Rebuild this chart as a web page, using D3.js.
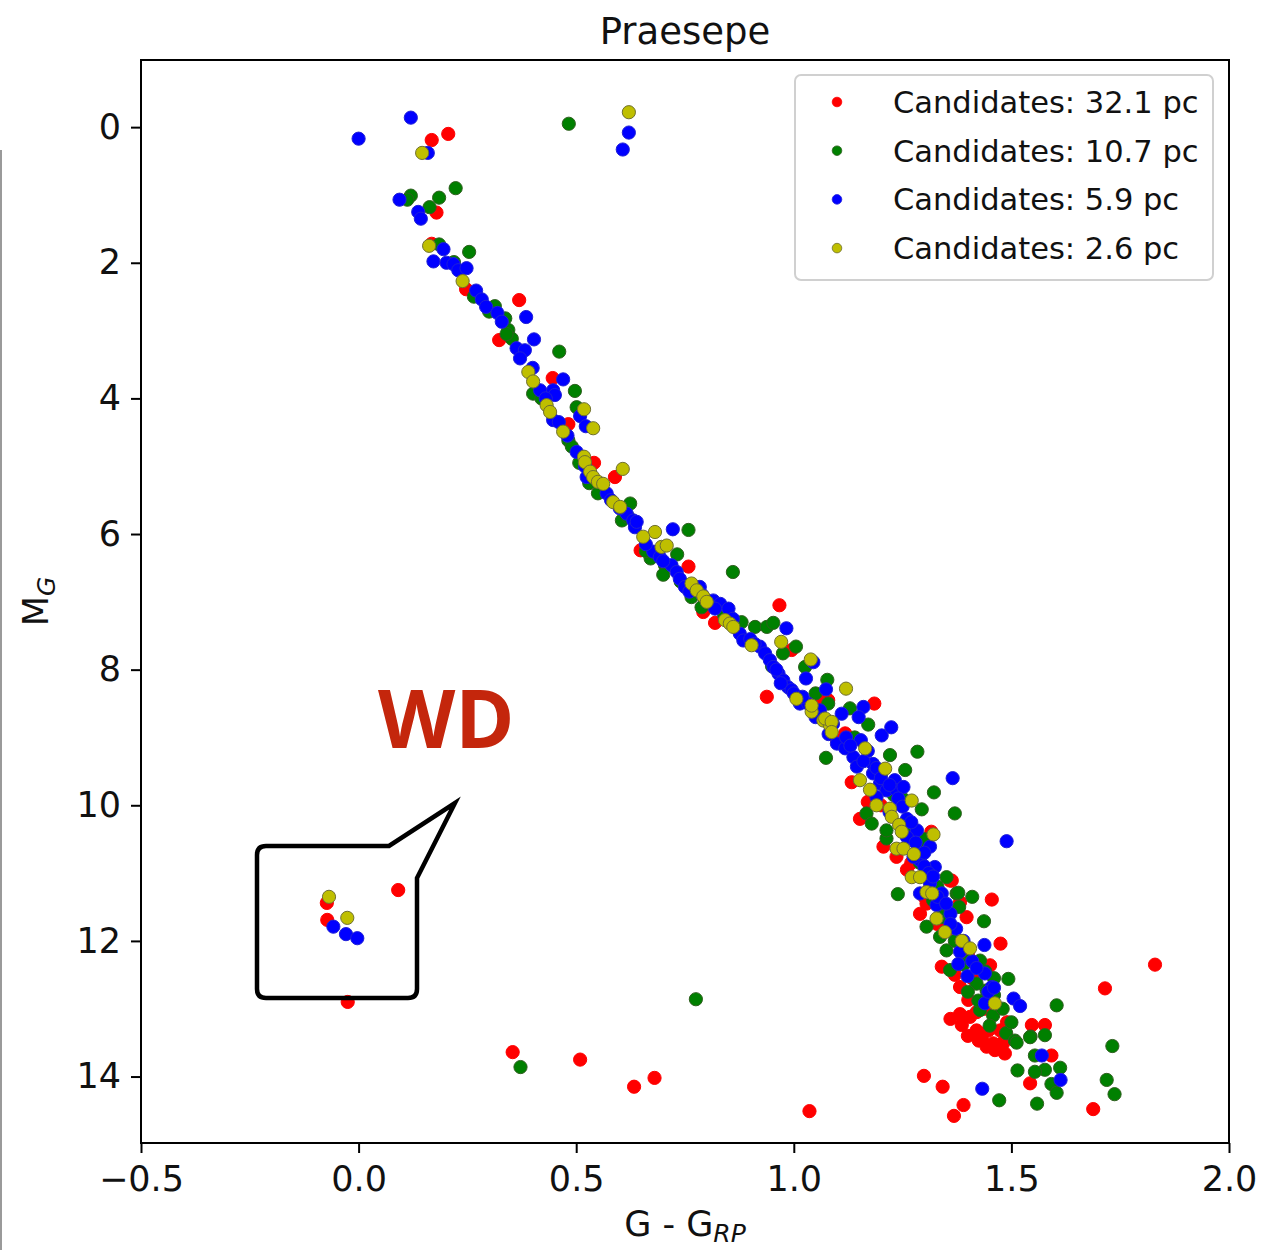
<!DOCTYPE html>
<html>
<head>
<meta charset="utf-8">
<script src="https://cdn.jsdelivr.net/npm/d3@7.9.0/dist/d3.min.js"></script>
<style>
  html, body { margin: 0; padding: 0; background: #fff; }
  svg { display: block; font-family: 'DejaVu Sans', sans-serif; }
</style>
</head>
<body>
<svg id="chart" width="1264" height="1250"></svg>
<script>
// colour index (G - G_RP), absolute magnitude M_G
const red32 = [
  [0.168, 0.19], [0.206, 0.10], [0.179, 1.26], [0.168, 1.72], [0.247, 2.39], [0.369, 2.55],
  [0.323, 3.14], [0.446, 3.70], [0.482, 4.38], [0.541, 4.95], [0.589, 5.16], [0.648, 6.24],
  [0.758, 6.48], [0.792, 7.15], [0.967, 7.05], [0.819, 7.31], [0.995, 7.71], [0.938, 8.40],
  [1.060, 8.43], [1.079, 8.45], [1.185, 8.50], [1.118, 8.94], [1.133, 9.66], [1.152, 10.20],
  [1.206, 10.61], [1.236, 10.76], [1.316, 10.39], [1.359, 11.11], [1.382, 11.43], [1.290, 11.60],
  [1.397, 11.65], [1.455, 11.39], [1.475, 12.04], [1.382, 13.08], [1.547, 13.24], [1.577, 13.24],
  [1.382, 12.68], [1.401, 12.87], [1.420, 13.05], [1.340, 12.38], [1.363, 11.11], [1.451, 12.36],
  [1.386, 13.24], [1.420, 13.32], [1.447, 13.32], [1.458, 13.51], [1.481, 13.51], [1.425, 13.47],
  [1.305, 11.45], [1.830, 12.35], [1.715, 12.70], [1.592, 13.69], [1.543, 14.10], [1.688, 14.48],
  [1.299, 13.99], [1.342, 14.15], [1.390, 14.42], [1.368, 14.58], [1.474, 13.32], [1.478, 13.51],
  [1.443, 13.56], [1.462, 13.61], [1.485, 13.66], [1.405, 13.12], [1.432, 13.44],
  [1.10, 9.05], [1.17, 9.95], [1.26, 10.95], [1.31, 11.25], [1.35, 11.85], [1.40, 12.20],
  [1.20, 10.00], [1.27, 10.85], [1.30, 11.35], [1.33, 11.75], [1.37, 12.50], [1.41, 12.55],
  [1.44, 13.00], [1.49, 13.20], [1.36, 13.15], [1.40, 13.40],
  [-0.073, 11.44], [-0.072, 11.69], [0.091, 11.25], [-0.025, 12.90],
  [0.354, 13.64], [0.509, 13.75], [0.633, 14.15], [0.680, 14.02], [1.036, 14.51]
];

const green107 = [
  [0.483, -0.05], [0.223, 0.90], [0.120, 1.01], [0.112, 1.07], [0.185, 1.04], [0.163, 1.18],
  [0.185, 1.73], [0.254, 1.84], [0.219, 1.99], [0.265, 2.50], [0.313, 2.64], [0.337, 2.82],
  [0.344, 2.99], [0.352, 3.12], [0.461, 3.31], [0.401, 3.93], [0.497, 3.89], [0.501, 4.13],
  [0.482, 4.62], [0.490, 4.71], [0.507, 4.95], [0.624, 5.55], [0.605, 5.80], [0.758, 5.94],
  [0.671, 6.36], [0.732, 6.30], [0.704, 6.46], [0.860, 6.56], [0.765, 6.93], [0.788, 7.08],
  [0.880, 7.30], [0.911, 7.37], [0.938, 7.37], [0.953, 7.31], [1.005, 7.66], [0.975, 7.76],
  [1.026, 7.96], [1.077, 8.15], [1.079, 8.50], [1.129, 8.57], [1.171, 8.81], [1.074, 9.30],
  [1.284, 9.21], [1.322, 9.81], [1.370, 10.12], [1.221, 9.26], [1.294, 10.06], [1.167, 10.12],
  [1.239, 11.31], [1.256, 9.48], [1.213, 10.49], [1.351, 11.06], [1.374, 11.30], [1.290, 10.61],
  [1.213, 10.37], [1.179, 10.27], [1.437, 11.71], [1.493, 12.56], [1.604, 12.95], [1.544, 13.41],
  [1.577, 13.39], [1.488, 13.36], [1.508, 13.47], [1.351, 12.14], [1.405, 12.29], [1.428, 12.29],
  [1.420, 12.63], [1.443, 12.73], [1.458, 13.10], [1.359, 12.43], [1.378, 11.29], [1.343, 11.55],
  [1.305, 11.79], [1.336, 11.94], [1.732, 13.55], [1.554, 13.69], [1.612, 13.87], [1.577, 13.90],
  [1.554, 13.93], [1.514, 13.91], [1.592, 14.11], [1.604, 14.24], [1.719, 14.05], [1.737, 14.26],
  [1.472, 14.35], [1.559, 14.40], [1.512, 13.50], [1.543, 13.42], [1.428, 13.02], [1.424, 12.88],
  [0.56, 5.35], [0.62, 5.75], [0.70, 6.60], [0.84, 7.20], [0.95, 7.95], [1.05, 8.35],
  [1.14, 9.00], [1.25, 9.90], [1.30, 10.50], [1.33, 11.20], [1.38, 11.50], [1.46, 12.55],
  [1.20, 9.55], [1.23, 9.85], [1.27, 10.35], [1.29, 10.85], [1.32, 11.40], [1.34, 11.65],
  [1.37, 12.00], [1.39, 12.35], [1.44, 12.45], [1.46, 12.80], [1.40, 12.75], [1.48, 13.00],
  [1.50, 13.20], [1.41, 11.35], [1.45, 13.25], [0.30, 2.72], [0.34, 3.05], [0.42, 4.00],
  [0.53, 5.25], [0.55, 5.40], [0.66, 6.25], [0.74, 6.70],
  [0.775, 12.86], [0.372, 13.86]
];

const blue59 = [
  [0.000, 0.17], [0.120, -0.14], [0.159, 0.38], [0.621, 0.08], [0.607, 0.33], [0.094, 1.07],
  [0.137, 1.25], [0.143, 1.35], [0.195, 1.80], [0.172, 1.98], [0.202, 2.00], [0.218, 2.02],
  [0.229, 2.11], [0.248, 2.08], [0.270, 2.41], [0.283, 2.54], [0.293, 2.65], [0.385, 2.80],
  [0.319, 2.74], [0.329, 2.87], [0.403, 3.13], [0.363, 3.26], [0.382, 3.29], [0.371, 3.41],
  [0.470, 3.72], [0.417, 3.88], [0.447, 3.88], [0.451, 3.95], [0.447, 4.32], [0.509, 4.26],
  [0.522, 4.41], [0.501, 4.79], [0.524, 5.16], [0.570, 5.40], [0.616, 5.70], [0.631, 5.80],
  [0.635, 5.90], [0.722, 5.93], [0.639, 5.82], [0.677, 6.26], [0.692, 6.34], [0.719, 6.46],
  [0.731, 6.56], [0.738, 6.66], [0.750, 6.78], [0.784, 6.78], [0.815, 6.98], [0.831, 7.03],
  [0.850, 7.10], [0.819, 7.10], [0.983, 7.39], [0.876, 7.47], [0.884, 7.57], [0.922, 7.66],
  [0.934, 7.76], [0.945, 7.86], [0.953, 7.96], [0.965, 8.06], [0.976, 8.16], [0.987, 8.26],
  [0.995, 8.30], [1.045, 7.89], [1.028, 8.13], [1.074, 8.29], [1.014, 8.50], [1.033, 8.50],
  [1.160, 8.55], [1.149, 8.70], [1.110, 8.65], [1.202, 8.97], [1.224, 8.85], [1.365, 9.60],
  [1.099, 9.09], [1.118, 9.16], [1.137, 9.29], [1.154, 9.04], [1.145, 9.43], [1.182, 9.53],
  [1.198, 9.68], [1.213, 9.78], [1.232, 9.63], [1.182, 9.39], [1.236, 9.78], [1.252, 9.73],
  [1.190, 9.88], [1.283, 10.37], [1.260, 10.47], [1.313, 10.61], [1.290, 10.81], [1.324, 10.91],
  [1.275, 10.76], [1.313, 11.15], [1.290, 11.30], [1.328, 11.47], [1.489, 10.53], [1.438, 12.06],
  [1.505, 12.85], [1.520, 12.96], [1.439, 12.92], [1.439, 12.48], [1.455, 12.68], [1.399, 12.52],
  [1.382, 12.16], [1.378, 12.34], [1.373, 11.82], [1.447, 12.75], [1.460, 12.69], [1.570, 13.69],
  [1.613, 14.05], [1.433, 14.18],
  [1.06, 8.60], [1.09, 8.80], [1.17, 9.20], [1.22, 10.10], [1.26, 10.20], [1.30, 10.90],
  [1.34, 11.30], [1.36, 11.60],
  [1.00, 8.35], [1.02, 8.40], [1.05, 8.70], [1.08, 8.95], [1.12, 9.00], [1.13, 9.12],
  [1.16, 9.35], [1.19, 9.45], [1.20, 9.60], [1.22, 9.70], [1.24, 9.90], [1.25, 10.02],
  [1.27, 10.25], [1.28, 10.55], [1.30, 10.70], [1.31, 11.00], [1.32, 11.05], [1.33, 11.35],
  [1.35, 11.45], [1.36, 11.75], [1.39, 12.00], [1.41, 12.30], [1.42, 12.40],
  [0.86, 7.25], [0.90, 7.55], [0.91, 7.62], [0.96, 8.00], [0.97, 8.20], [0.66, 6.15],
  [0.70, 6.40], [0.76, 6.85], [0.79, 6.90], [0.40, 3.55], [0.43, 4.00], [0.46, 4.35],
  [0.48, 4.55], [0.52, 5.00], [0.58, 5.50], [0.60, 5.62],
  [-0.058, 11.79], [-0.029, 11.90], [-0.003, 11.96]
];

const yellow26 = [
  [0.621, -0.22], [0.146, 0.38], [0.162, 1.75], [0.239, 2.27], [0.390, 3.61], [0.401, 3.75],
  [0.432, 4.10], [0.440, 4.20], [0.518, 4.16], [0.539, 4.44], [0.470, 4.49], [0.518, 4.86],
  [0.520, 4.94], [0.607, 5.04], [0.532, 5.08], [0.539, 5.16], [0.550, 5.23], [0.562, 5.26],
  [0.585, 5.53], [0.601, 5.60], [0.681, 5.97], [0.654, 6.04], [0.696, 6.19], [0.708, 6.17],
  [0.765, 6.73], [0.777, 6.83], [0.792, 6.92], [0.800, 7.00], [0.842, 7.27], [0.853, 7.32],
  [0.861, 7.37], [0.903, 7.64], [0.971, 7.59], [1.039, 7.85], [1.006, 8.43], [1.041, 8.62],
  [1.068, 8.75], [1.083, 8.82], [1.120, 8.28], [1.041, 8.53], [1.072, 8.72], [1.087, 8.77],
  [1.087, 8.92], [1.164, 9.16], [1.210, 9.46], [1.152, 9.63], [1.175, 9.77], [1.271, 9.93],
  [1.190, 10.00], [1.221, 10.05], [1.225, 10.17], [1.242, 10.29], [1.248, 10.39], [1.321, 10.43],
  [1.236, 10.64], [1.252, 10.64], [1.276, 10.72], [1.271, 11.06], [1.290, 11.06], [1.305, 11.28],
  [1.318, 11.30], [1.386, 12.00], [1.405, 12.11], [1.347, 11.87], [1.328, 11.67], [1.462, 12.92],
  [-0.068, 11.35], [-0.026, 11.66]
];

const seriesLabels = ['Candidates: 32.1 pc', 'Candidates: 10.7 pc', 'Candidates: 5.9 pc', 'Candidates: 2.6 pc'];
const xTicks = [-0.5, 0.0, 0.5, 1.0, 1.5, 2.0];
const yTicks = [0, 2, 4, 6, 8, 10, 12, 14];

const series = [
  { label: seriesLabels[0], points: red32, fill: '#ff0000', stroke: '#ff0000' },
  { label: seriesLabels[1], points: green107, fill: '#008000', stroke: '#2f5f1f' },
  { label: seriesLabels[2], points: blue59, fill: '#0000ff', stroke: '#2020d8' },
  { label: seriesLabels[3], points: yellow26, fill: '#bfbf00', stroke: '#6f6f30' },
];

const svg = d3.select('#chart');
const plotLeft = 141, plotRight = 1229, plotTop = 60, plotBottom = 1143;

const x = d3.scaleLinear().domain([-0.5, 2.0]).range([plotLeft, plotRight]);
const y = d3.scaleLinear().domain([-0.99, 14.98]).range([plotTop, plotBottom]);

// scan artefact on the left edge of the reference
svg.append('line')
  .attr('x1', 1).attr('x2', 1).attr('y1', 150).attr('y2', 1250)
  .attr('stroke', '#9a9a9a').attr('stroke-width', 2);

// points
const plot = svg.append('g');
series.forEach((s) => {
  plot.append('g')
    .selectAll('circle')
    .data(s.points)
    .join('circle')
    .attr('cx', (d) => x(d[0]))
    .attr('cy', (d) => y(d[1]))
    .attr('r', 6.6)
    .attr('fill', s.fill)
    .attr('stroke', s.stroke)
    .attr('stroke-width', 1);
});

// frame
svg.append('rect')
  .attr('x', plotLeft).attr('y', plotTop)
  .attr('width', plotRight - plotLeft).attr('height', plotBottom - plotTop)
  .attr('fill', 'none').attr('stroke', '#000').attr('stroke-width', 2);

// axes
const xAxis = svg.append('g')
  .attr('transform', `translate(0,${plotBottom})`)
  .call(d3.axisBottom(x).tickValues(xTicks).tickFormat(d3.format('.1f')).tickSize(10).tickPadding(13));
const yAxis = svg.append('g')
  .attr('transform', `translate(${plotLeft},0)`)
  .call(d3.axisLeft(y).tickValues(yTicks).tickFormat(d3.format('d')).tickSize(10).tickPadding(10));

[xAxis, yAxis].forEach((ax) => {
  ax.select('.domain').remove();
  ax.selectAll('line').attr('stroke', '#000').attr('stroke-width', 2);
  ax.selectAll('text')
    .attr('fill', '#111')
    .style('font-family', "'DejaVu Sans', sans-serif")
    .style('font-size', '35px');
});

// title
svg.append('text')
  .attr('x', (plotLeft + plotRight) / 2).attr('y', 44)
  .attr('text-anchor', 'middle')
  .style('font-size', '37px')
  .attr('fill', '#111')
  .text('Praesepe');

// x label: G - G_RP
const xl = svg.append('text')
  .attr('x', (plotLeft + plotRight) / 2).attr('y', 1236)
  .attr('text-anchor', 'middle')
  .style('font-size', '35px')
  .attr('fill', '#111');
xl.append('tspan').text('G - G');
xl.append('tspan').attr('dy', 6).style('font-size', '25px').style('font-style', 'italic').text('RP');

// y label: M_G
const yl = svg.append('text')
  .attr('transform', `translate(48,${(plotTop + plotBottom) / 2}) rotate(-90)`)
  .attr('text-anchor', 'middle')
  .style('font-size', '35px')
  .attr('fill', '#111');
yl.append('tspan').text('M');
yl.append('tspan').attr('dy', 7).style('font-size', '25px').style('font-style', 'italic').text('G');

// legend
const legend = svg.append('g');
legend.append('rect')
  .attr('x', 795).attr('y', 75).attr('width', 418).attr('height', 205)
  .attr('rx', 6).attr('fill', '#fff').attr('fill-opacity', 0.8)
  .attr('stroke', '#d0d0d0').attr('stroke-width', 2);
series.forEach((s, i) => {
  const cy = 102 + i * 48.7;
  legend.append('circle')
    .attr('cx', 837).attr('cy', cy).attr('r', 4.8)
    .attr('fill', s.fill).attr('stroke', s.stroke).attr('stroke-width', 0.8);
  legend.append('text')
    .attr('x', 893).attr('y', cy)
    .attr('dy', '0.36em')
    .style('font-size', '30.5px')
    .attr('fill', '#111')
    .text(s.label);
});

// WD callout
const callout = d3.path();
const bx0 = 257, by0 = 846, bx1 = 417, by1 = 998, rr = 9;
callout.moveTo(bx0 + rr, by0);
callout.lineTo(389, by0);
callout.lineTo(455, 803);
callout.lineTo(bx1, 878);
callout.lineTo(bx1, by1 - rr);
callout.quadraticCurveTo(bx1, by1, bx1 - rr, by1);
callout.lineTo(bx0 + rr, by1);
callout.quadraticCurveTo(bx0, by1, bx0, by1 - rr);
callout.lineTo(bx0, by0 + rr);
callout.quadraticCurveTo(bx0, by0, bx0 + rr, by0);
callout.closePath();
svg.append('path')
  .attr('d', callout.toString())
  .attr('fill', 'none').attr('stroke', '#000').attr('stroke-width', 4.5)
  .attr('stroke-linejoin', 'miter');

svg.append('text')
  .attr('x', 378).attr('y', 748)
  .style('font-family', "'Open Sans', sans-serif")
  .style('font-weight', 700)
  .style('font-size', '80px')
  .attr('fill', '#c4260c')
  .text('WD');
</script>
</body>
</html>
